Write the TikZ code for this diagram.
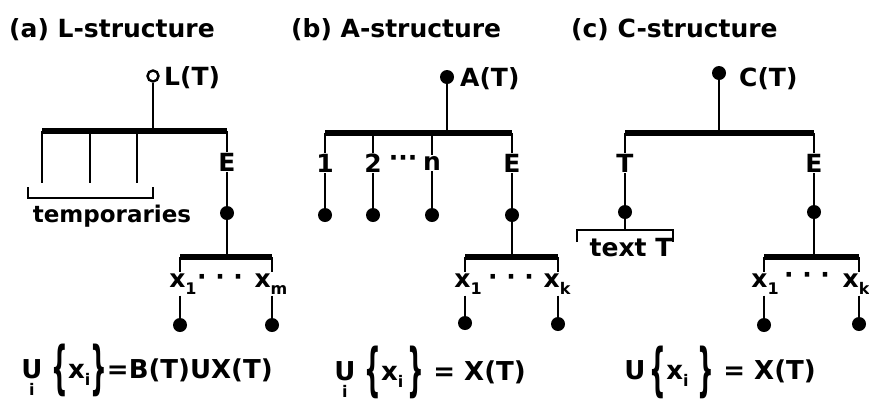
\documentclass[tikz,border=0pt]{standalone}
\usepackage{fontspec}
\usepackage{graphicx}
\setmainfont{DejaVu Sans}
\newcommand\sbsz{\fontsize{16}{17}\selectfont}
\newcommand\sbs[1]{\raisebox{-7pt}{\sbsz #1}}
\newcommand\bbrace[1]{\raisebox{-0.36em}{\scalebox{0.9}[2.2]{#1}}}
\newcommand\bigU{\begin{tabular}[t]{@{}c@{}}U\\[-13pt]\sbsz i\end{tabular}}
\tikzset{
  lbl/.style={font=\fontsize{25}{30}\selectfont\bfseries, inner sep=1pt},
  ttl/.style={font=\fontsize{25}{30}\selectfont\bfseries, anchor=west, inner sep=0pt},
  frm/.style={font=\fontsize{26}{30}\selectfont\bfseries, inner sep=0pt},
  bar/.style={line width=6pt},
  stem/.style={line width=2.8pt},
  dot/.style={circle, fill, inner sep=0pt, minimum size=14pt},
  odot/.style={circle, draw, line width=2.4pt, inner sep=0pt, minimum size=11pt, fill=white}
}
\begin{document}
\begin{tikzpicture}[x=1pt,y=-1pt]
  \useasboundingbox (0,0) rectangle (869,408);
  % (a) L-structure
  \node[ttl] (ta) at (9,30) {(a) L-structure};
  \node[odot] (La) at (153,76) {};
  \node[lbl, anchor=west] (lLa) at (163,78) {L(T)};
  \coordinate (abl) at (42,131); \coordinate (abr) at (227,131);
  \draw[stem] (La) -- (La |- abl);
  \draw[bar] (abl) -- (abr);
  \foreach \x in {42,90,137}
    \draw[stem] (\x,131) -- (\x,183);
  \draw[stem] (28,187) -- (28,198) -- (153,198) -- (153,187);
  \node[lbl, font=\fontsize{23}{28}\selectfont\bfseries] (tmp) at (112,216) {temporaries};
  \node[lbl] (Ea) at (227,162) {E};
  \node[dot] (dEa) at (227,213) {};
  \draw[stem] (abr) -- (Ea.north);
  \draw[stem] (Ea) -- (dEa);
  \coordinate (xal) at (180,257); \coordinate (xar) at (272,257);
  \draw[stem] (dEa) -- (dEa |- xal);
  \draw[bar] (xal) -- (xar);
  \node[lbl] (xa1) at (183,284) {x\sbs{1}};
  \node[lbl] (xam) at (271,284) {x\sbs{m}};
  \node[lbl] (cda) at (220,280) {· · ·};
  \node[dot] (da1) at (180,325) {};
  \node[dot] (dam) at (272,325) {};
  \draw[stem] (xal) -- (xal |- xa1.north) (xa1.south -| xal) -- (da1);
  \draw[stem] (xar) -- (xar |- xam.north) (xam.south -| xar) -- (dam);
  \node[frm] (fa) at (147,374)
    {\bigU\ \bbrace{\{}x\sbs{i}\bbrace{\}}=B(T)UX(T)};
  % (b) A-structure
  \node[ttl] (tb) at (291,30) {(b) A-structure};
  \node[dot] (Ab) at (447,77) {};
  \node[lbl, anchor=west] (lAb) at (459,79) {A(T)};
  \coordinate (bbl) at (325,133); \coordinate (bbr) at (512,133);
  \draw[stem] (Ab) -- (Ab |- bbl);
  \draw[bar] (bbl) -- (bbr);
  \foreach \n/\x/\t in {1/325/1,2/373/2,3/432/n,4/512/E}{
    \node[lbl] (b\n) at (\x,163) {\t};
    \node[dot] (db\n) at (\x,215) {};
    \draw[stem] (\x,133) -- (b\n.north);
    \draw[stem] (b\n) -- (db\n);
  }
  \node[lbl] (cdb) at (403,161) {···};
  \coordinate (xbl) at (465,257); \coordinate (xbr) at (558,257);
  \draw[stem] (db4) -- (db4 |- xbl);
  \draw[bar] (xbl) -- (xbr);
  \node[lbl] (xb1) at (468,284) {x\sbs{1}};
  \node[lbl] (xbk) at (557,284) {x\sbs{k}};
  \node[lbl] (cdb2) at (511,280) {· · ·};
  \node[dot] (db5) at (465,323) {};
  \node[dot] (db6) at (558,324) {};
  \draw[stem] (xbl) -- (xbl |- xb1.north) (xb1.south -| xbl) -- (db5);
  \draw[stem] (xbr) -- (xbr |- xbk.north) (xbk.south -| xbr) -- (db6);
  \node[frm] (fb) at (430,376)
    {\bigU\ \bbrace{\{}x\sbs{i}\,\bbrace{\}} = X(T)};
  % (c) C-structure
  \node[ttl] (tc) at (571,30) {(c) C-structure};
  \node[dot] (Cc) at (719,73) {};
  \node[lbl, anchor=west] (lCc) at (738,79) {C(T)};
  \coordinate (cbl) at (625,133); \coordinate (cbr) at (814,133);
  \draw[stem] (Cc) -- (Cc |- cbl);
  \draw[bar] (cbl) -- (cbr);
  \node[lbl] (Tc) at (625,163) {T};
  \node[lbl] (Ec) at (814,163) {E};
  \node[dot] (dTc) at (625,212) {};
  \node[dot] (dEc) at (814,212) {};
  \draw[stem] (cbl) -- (Tc.north) (Tc) -- (dTc);
  \draw[stem] (cbr) -- (Ec.north) (Ec) -- (dEc);
  \coordinate (tcj) at (625,230);
  \draw[stem] (dTc) -- (tcj);
  \draw[stem] (577,242) -- (577,230) -- (673,230) -- (673,242);
  \node[lbl] (txt) at (631,248) {text T};
  \coordinate (xcl) at (764,257); \coordinate (xcr) at (859,257);
  \draw[stem] (dEc) -- (dEc |- xcl);
  \draw[bar] (xcl) -- (xcr);
  \node[lbl] (xc1) at (765,284) {x\sbs{1}};
  \node[lbl] (xck) at (856,284) {x\sbs{k}};
  \node[lbl] (cdc) at (807,278) {· · ·};
  \node[dot] (dc1) at (764,325) {};
  \node[dot] (dck) at (859,324) {};
  \draw[stem] (xcl) -- (xcl |- xc1.north) (xc1.south -| xcl) -- (dc1);
  \draw[stem] (xcr) -- (xcr |- xck.north) (xck.south -| xcr) -- (dck);
  \node[frm] (fc) at (720,372)
    {U\,\bbrace{\{}x\sbs{i}\ \bbrace{\}} = X(T)};
\end{tikzpicture}
\end{document}
